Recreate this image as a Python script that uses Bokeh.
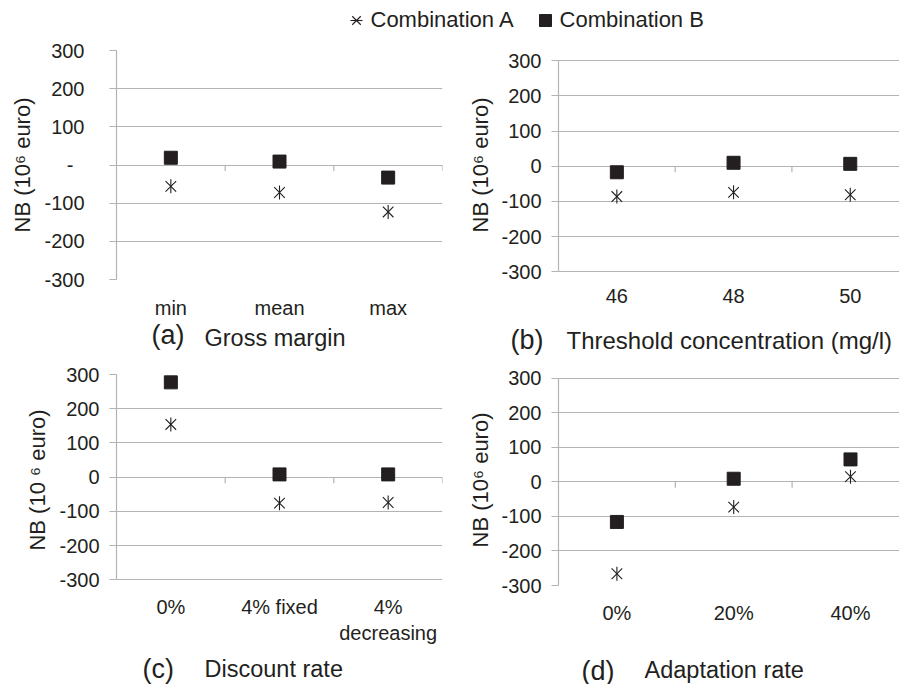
import math
from bokeh.plotting import figure
from bokeh.layouts import column, row
from bokeh.models import Range1d, FixedTicker, Label, Legend, LegendItem
from bokeh.embed import file_html
from bokeh.resources import INLINE

# ---------------- data ----------------
a_categories = ["min", "mean", "max"]
a_comb_a = [-56, -72, -123]
a_comb_b = [19, 9, -33]

b_categories = ["46", "48", "50"]
b_comb_a = [-86, -74, -81]
b_comb_b = [-17, 10, 7]

c_categories = ["0%", "4% fixed", "4%\ndecreasing"]
c_comb_a = [154, -76, -74]
c_comb_b = [277, 8, 8]

d_categories = ["0%", "20%", "40%"]
d_comb_a = [-266, -73, 15]
d_comb_b = [-116, 9, 65]

y_ticks = [-300, -200, -100, 0, 100, 200, 300]
series_names = ["Combination A", "Combination B"]
captions = [("(a)", "Gross margin"), ("(b)", "Threshold concentration (mg/l)"),
            ("(c)", "Discount rate"), ("(d)", "Adaptation rate")]

# ---------------- style ----------------
INK = "#231f20"
GRID = "#b3b3b3"
FONT = "Liberation Sans"
W = 899


def make_panel(cats, va, vb, fig_w, frame_w, border, x_end, y_rng,
               ytick_standoff, xtick_standoff, ylabel_standoff, ylabel,
               zero_label="0"):
    left, right, top, bottom, frame_h = border
    p = figure(width=fig_w, height=top + frame_h + bottom,
               x_range=Range1d(-0.5, x_end), y_range=Range1d(*y_rng),
               toolbar_location=None, output_backend="svg",
               min_border_left=left, min_border_right=right,
               min_border_top=top, min_border_bottom=bottom,
               outline_line_color=None)
    xs = list(range(len(cats)))
    lo, hi = min(y_ticks), max(y_ticks)

    p.yaxis.ticker = FixedTicker(ticks=y_ticks)
    p.yaxis.bounds = (lo, hi)
    overrides = {t: str(t) for t in y_ticks}
    overrides[0] = zero_label
    p.yaxis.major_label_overrides = overrides
    p.yaxis.axis_line_color = GRID
    p.yaxis.axis_line_width = 1.2
    p.yaxis.major_tick_line_color = GRID
    p.yaxis.major_tick_line_width = 1.2
    p.yaxis.major_tick_in = 0
    p.yaxis.major_tick_out = 7
    p.yaxis.minor_tick_line_color = None
    p.yaxis.major_label_standoff = ytick_standoff
    p.yaxis.major_label_text_font = FONT
    p.yaxis.major_label_text_font_size = "20px"
    p.yaxis.major_label_text_color = INK
    p.yaxis.axis_label = ylabel
    p.yaxis.axis_label_text_font = FONT
    p.yaxis.axis_label_text_font_size = "22px"
    p.yaxis.axis_label_text_font_style = "normal"
    p.yaxis.axis_label_text_color = INK
    p.yaxis.axis_label_standoff = ylabel_standoff

    p.xaxis.ticker = FixedTicker(ticks=xs)
    p.xaxis.major_label_overrides = {i: c for i, c in zip(xs, cats)}
    p.xaxis.axis_line_color = None
    p.xaxis.major_tick_line_color = None
    p.xaxis.minor_tick_line_color = None
    p.xaxis.major_label_standoff = xtick_standoff
    p.xaxis.major_label_text_font = FONT
    p.xaxis.major_label_text_font_size = "20px"
    p.xaxis.major_label_text_color = INK

    p.xgrid.visible = False
    p.ygrid.ticker = FixedTicker(ticks=y_ticks)
    p.ygrid.grid_line_color = GRID
    p.ygrid.grid_line_width = 1.2

    # category boundary ticks hanging below the zero line
    tick_len = 6 * (y_rng[1] - y_rng[0]) / frame_h
    bounds = [i + 0.5 for i in xs]
    p.segment(x0=bounds, y0=[0] * len(bounds), x1=bounds,
              y1=[-tick_len] * len(bounds), line_color=GRID, line_width=1.2)

    p.scatter(xs, vb, marker="square", size=13, fill_color=INK, line_color=INK)
    p.scatter(xs, va, marker="x", size=15, line_color=INK, line_width=1.1)
    p.scatter(xs, va, marker="dash", angle=math.pi / 2, size=14,
              line_color=INK, line_width=1.1)
    return p


# row 1: page y 38..321, common frame 50..279
pa = make_panel(a_categories, a_comb_a, a_comb_b, 449, 326, (116, 7, 12, 42, 229),
                2.5, (-300, 300), 25, 11, 6, "NB (10⁶ euro)", zero_label="-  ")
pb = make_panel(b_categories, b_comb_a, b_comb_b, 450, 341, (109, 0, 12, 42, 229),
                -0.5 + 341 / 116.7, (-321.9, 329.3), 10, 3, 5, "NB (10⁶ euro)")
# row 2: page y 355..650, common frame 374..585
pc = make_panel(c_categories, c_comb_a, c_comb_b, 449, 326, (116, 7, 19, 65, 211),
                2.5, (-316.7, 300), 10, 4, 6, "NB (10 ⁶ euro)")
pd = make_panel(d_categories, d_comb_a, d_comb_b, 450, 341, (109, 0, 19, 65, 211),
                -0.5 + 341 / 116.8, (-300, 310.7), 10, 10, 5, "NB (10⁶ euro)")


def strip(y_top, y_bot):
    s = figure(width=W, height=y_bot - y_top, x_range=Range1d(0, W),
               y_range=Range1d(y_bot, y_top), x_axis_type=None, y_axis_type=None,
               toolbar_location=None, output_backend="svg", min_border=0,
               outline_line_color=None)
    s.grid.visible = False
    return s


def caption(s, letter, text, lx, ly, tx, ty, size="23.5px"):
    s.add_layout(Label(x=lx, y=ly, text=letter, text_font=FONT, text_font_size="27px",
                       text_color=INK, text_baseline="alphabetic"))
    s.add_layout(Label(x=tx, y=ty, text=text, text_font=FONT, text_font_size=size,
                       text_color=INK, text_baseline="alphabetic"))


# ---------------- legend strip ----------------
leg = strip(0, 38)
r_x = leg.scatter(x=[-100], y=[-100], marker="x", size=13, line_color=INK, line_width=1.1)
r_d = leg.scatter(x=[-100], y=[-100], marker="dash", angle=math.pi / 2, size=13,
                  line_color=INK, line_width=1.1)
r_s = leg.scatter(x=[-100], y=[-100], marker="square", size=13, fill_color=INK,
                  line_color=INK)
legend = Legend(items=[LegendItem(label=series_names[0], renderers=[r_x, r_d]),
                       LegendItem(label=series_names[1], renderers=[r_s])],
                location=(340.5, 3.5), orientation="horizontal",
                glyph_width=30, glyph_height=30, label_standoff=0, spacing=16,
                padding=0, margin=0, border_line_color=None,
                background_fill_alpha=0, label_text_font=FONT,
                label_text_font_size="22px", label_text_color=INK)
leg.add_layout(legend)

# ---------------- caption strips ----------------
SHIFT = 7
cap1 = strip(321, 355)
caption(cap1, *captions[0], 151, 341.5 - SHIFT, 204, 344.5 - SHIFT)
caption(cap1, *captions[1], 510, 346.5 - SHIFT, 566, 346.7 - SHIFT, size="24px")
cap2 = strip(650, 684)
caption(cap2, *captions[2], 142, 675 - SHIFT, 204, 675 - SHIFT)
caption(cap2, *captions[3], 581, 677 - SHIFT, 644, 676.7 - SHIFT)

layout = column(leg, row(pa, pb), cap1, row(pc, pd), cap2)
open("out.html", "w").write(file_html(layout, INLINE))
